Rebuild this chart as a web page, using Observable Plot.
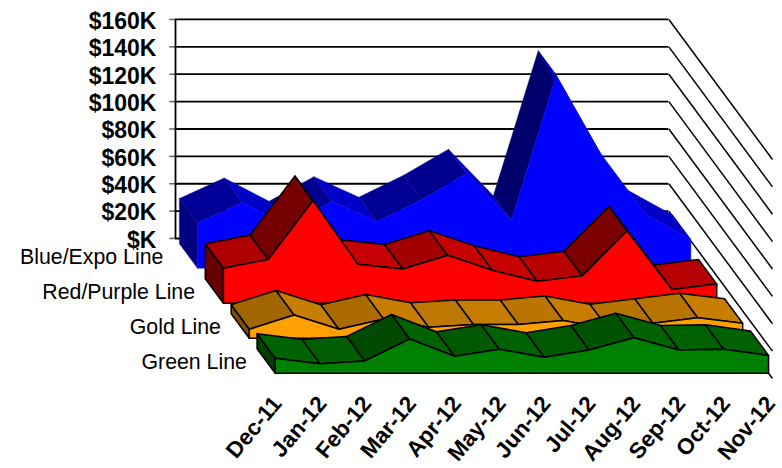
<!DOCTYPE html>
<html><head><meta charset="utf-8">
<style>html,body{margin:0;padding:0;background:#fff}svg{display:block}</style>
<script src="https://cdn.jsdelivr.net/npm/d3@7"></script>
<script src="https://cdn.jsdelivr.net/npm/@observablehq/plot@0.6"></script>
</head><body><div id="chart"></div>
<script>
const months = ["Dec-11","Jan-12","Feb-12","Mar-12","Apr-12","May-12","Jun-12","Jul-12","Aug-12","Sep-12","Oct-12","Nov-12"];
const yTicks = [0,20,40,60,80,100,120,140,160];
const blueValues  = [33,48,31,49,34,50,69,35,141,83,39,21];
const redValues   = [25.6,32,75,28.5,25,35,24,16,20,53,10,14];
const goldValues  = [6.6,17,6.6,14,8,10,10,13,7,11,15,11];
const greenValues = [11,7,9,25,12.4,17.5,11.7,17,26,17,17.5,13];
const seriesNames = ["Blue/Expo Line","Red/Purple Line","Gold Line","Green Line"];

// oblique projection: depth z shifts a point in month and value units
const W = 782, H = 468, X0 = 175, Y0 = 238, MW = 44.85, KH = 1.369;
const ZX = 25.9 / MW, ZY = 35 / KH;
const px = (m, z) => m + z * ZX;
const py = (v, z) => v - z * ZY;

const looks = [
  {values: blueValues,  rgb: [0,0,255],   gain: 1,    side: "#000080", front: "#0000ff", line: "none"},
  {values: redValues,   rgb: [255,0,0],   gain: 1,    side: "#660000", front: "#ff0000", line: "#000"},
  {values: goldValues,  rgb: [255,160,0], gain: 1,    side: "#805000", front: "#ffa000", line: "#000"},
  {values: greenValues, rgb: [0,128,0],   gain: 0.98, side: "#003f00", front: "#008000", line: "#000"}
];
const shade = (sr, dv) => {
  const s = dv * KH / MW;
  const f = s <= 0 ? 0.78 : 0.42 + 0.36 * Math.exp(-1.6 * s);
  return `rgb(${sr.rgb.map(c => Math.round(c * f * sr.gain)).join(",")})`;
};

const seriesMarks = looks.flatMap((sr, si) => {
  const zb = si + 0.15, zf = si + 0.85, polys = [];
  let id = 0;
  const add = (color, pts) => {
    const k = id++;
    [...pts, pts[0]].forEach(([m, v, z]) => polys.push({id: k, color, x: px(m, z), y: py(v, z)}));
  };
  const n = sr.values.length;
  add(sr.side, [[0,0,zb],[0,sr.values[0],zb],[0,sr.values[0],zf],[0,0,zf]]);
  for (let i = 0; i < n - 1; i++) {
    const a = sr.values[i], b = sr.values[i+1];
    add(shade(sr, b - a), [[i,a,zb],[i+1,b,zb],[i+1,b,zf],[i,a,zf]]);
  }
  add(sr.front, [[0,0,zf], ...sr.values.map((v,i)=>[i,v,zf]), [n-1,0,zf]]);
  return [Plot.line(polys, {x:"x", y:"y", z:"id", fill:"color",
    stroke: sr.line === "none" ? "color" : sr.line,
    strokeWidth: sr.line === "none" ? 0.4 : 1.5, strokeLinejoin:"round"})];
});

const labelFont = {fontFamily:"'Liberation Sans',Arial,sans-serif", fill:"#000"};
const plot = Plot.plot({
  width: W, height: H, margin: 0,
  x: {domain: [-X0/MW, (W-X0)/MW], range: [0, W], axis: null},
  y: {domain: [Y0/KH, (Y0-H)/KH], range: [0, H], axis: null},
  color: {type: "identity"},
  style: {background:"#fff"},
  marks: [
    Plot.ruleY(yTicks, {x1: -0.13, x2: 0, stroke:"#666", strokeWidth:1.5}),
    Plot.ruleY(yTicks, {x1: 0, x2: 11, stroke:"#000", strokeWidth:1.8}),
    Plot.ruleX([0], {y1: 0, y2: 160, stroke:"#000", strokeWidth:1.8}),
    Plot.link(yTicks, {x1: () => 11, y1: d => d, x2: () => px(11,4), y2: d => py(d,4), stroke:"#000", strokeWidth:1.5}),
    ...seriesMarks,
    Plot.text(yTicks, {x: () => -0.425, y: d => d, dy: 2, text: d => `$${d === 0 ? "" : d}K`,
      textAnchor:"end", fontSize:23, fontWeight:"bold", ...labelFont}),
    Plot.text(seriesNames, {x: (d,i) => px(i === 0 ? -0.56 : -0.43, i + 0.5), y: (d,i) => py(0, i + 0.5), dy: 1, text: d => d,
      textAnchor:"end", fontSize:21.3, ...labelFont}),
    Plot.text(months, {x: (d,i) => px(i - 0.04, 4), y: () => py(0, 4), dx: 0, dy: 21, text: d => d,
      textAnchor:"end", rotate:-50, fontSize:22.5, fontWeight:"bold", ...labelFont})
  ]
});
document.getElementById("chart").append(plot);
</script></body></html>
